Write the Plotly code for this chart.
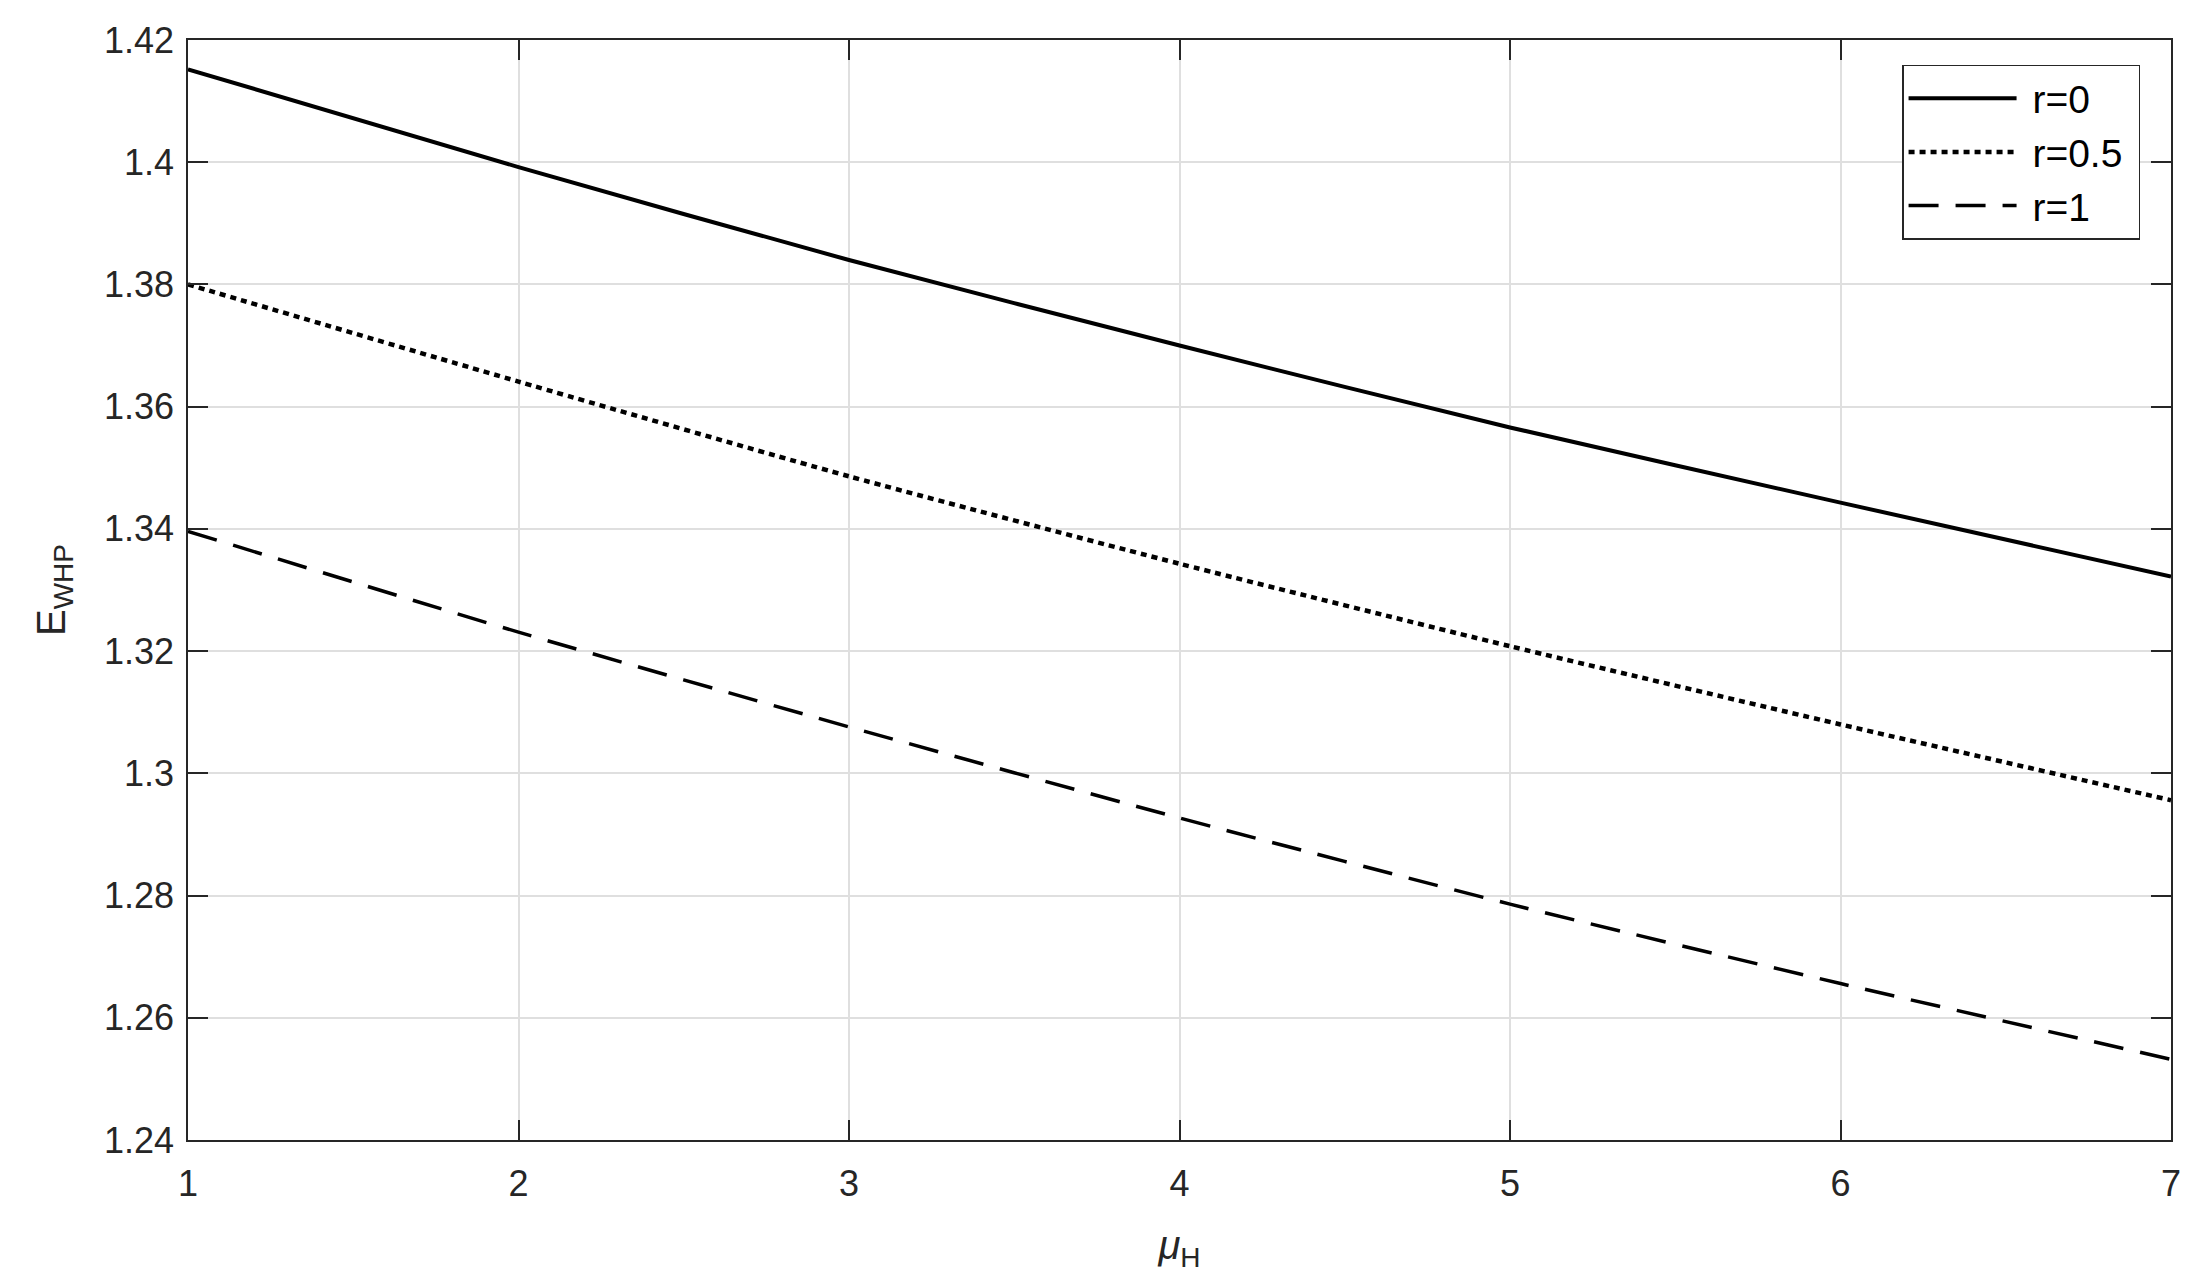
import plotly.graph_objects as go

mu_h = [1, 2, 3, 4, 5, 6, 7]
e_r0 = [1.4152, 1.3992, 1.3840, 1.3700, 1.3566, 1.3443, 1.3322]
e_r05 = [1.3800, 1.3641, 1.3486, 1.3343, 1.3208, 1.3080, 1.2956]
e_r1 = [1.3396, 1.3231, 1.3076, 1.2927, 1.2786, 1.2656, 1.2532]

series_names = ['r=0', 'r=0.5', 'r=1']
y_ticks = [1.24, 1.26, 1.28, 1.3, 1.32, 1.34, 1.36, 1.38, 1.4, 1.42]
y_tick_text = ['1.24', '1.26', '1.28', '1.3', '1.32', '1.34', '1.36', '1.38', '1.4', '1.42']

AX = '#262626'
FONT = 'Liberation Sans, Arial, Helvetica, sans-serif'
NBSP = '\u00a0'

fig = go.Figure()

styles = [
    dict(color='black', width=4, dash='solid'),
    dict(color='black', width=4.5, dash='6px,5px'),
    dict(color='black', width=3.5, dash='30px,17px'),
]
for name, ys, st in zip(series_names, [e_r0, e_r05, e_r1], styles):
    fig.add_trace(go.Scatter(
        x=mu_h, y=ys, mode='lines', name=NBSP + name + NBSP,
        line=dict(shape='spline', smoothing=0.6, **st)
    ))

axis_common = dict(
    showline=True, linecolor=AX, linewidth=1.5, mirror='allticks',
    ticks='inside', ticklen=20, tickwidth=1.5, tickcolor=AX,
    showgrid=True, gridcolor='#dfdfdf', gridwidth=1.5,
    zeroline=False,
    tickfont=dict(family=FONT, size=36, color=AX),
)

fig.update_xaxes(
    range=[1, 7], tickvals=mu_h, ticktext=[str(v) for v in mu_h],
    title=dict(text='<i>μ</i><sub>H</sub>', font=dict(family=FONT, size=40, color=AX), standoff=28),
    ticklabelstandoff=11,
    **axis_common
)
fig.update_yaxes(
    range=[1.24, 1.42], tickvals=y_ticks, ticktext=y_tick_text,
    title=dict(text='E<sub>WHP</sub>', font=dict(family=FONT, size=40, color=AX), standoff=26),
    ticklabelstandoff=5,
    **axis_common
)

# page body adds an 8px offset, so size/margins are trimmed to match
fig.update_layout(
    width=2189, height=1278,
    margin=dict(l=180, r=26, t=26, b=146),
    plot_bgcolor='white', paper_bgcolor='white',
    font=dict(family=FONT, color=AX),
    showlegend=True,
    legend=dict(
        x=0.9844, y=0.9774, xanchor='right', yanchor='top',
        bgcolor='white', bordercolor=AX, borderwidth=1.5,
        font=dict(family=FONT, size=39, color='black'),
        itemwidth=108, tracegroupgap=0,
    ),
)

fig.write_html("out.html")
